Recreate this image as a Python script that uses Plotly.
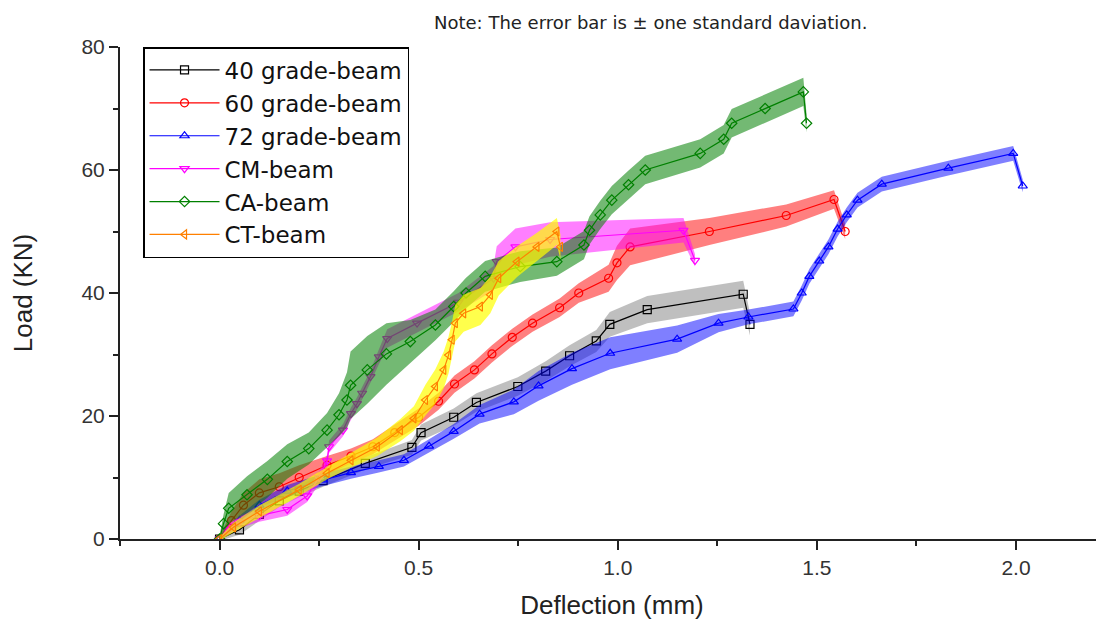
import plotly.graph_objects as go

# ---------------- data ----------------
names = ["40 grade-beam", "60 grade-beam", "72 grade-beam", "CM-beam", "CA-beam", "CT-beam"]

x40 = [0, 0.05, 0.10, 0.15, 0.20, 0.26, 0.366, 0.483, 0.506, 0.588, 0.645, 0.749, 0.819, 0.879, 0.946, 0.980, 1.074, 1.315, 1.332]
y40 = [0, 1.5, 4.0, 6.2, 7.8, 9.5, 12.3, 14.9, 17.3, 19.8, 22.2, 24.8, 27.3, 29.8, 32.2, 34.9, 37.3, 39.8, 34.9]
e40 = [0.3, 0.8, 1.0, 1.0, 1.0, 1.0, 1.0, 1.2, 1.3, 1.4, 1.5, 1.5, 1.6, 1.7, 1.8, 2.0, 2.2, 2.2, 1.8]

x60 = [0, 0.03, 0.06, 0.10, 0.15, 0.20, 0.27, 0.33, 0.385, 0.44, 0.50, 0.55, 0.59, 0.64, 0.684, 0.735, 0.786, 0.854, 0.902, 0.977, 0.998, 1.031, 1.23, 1.423, 1.543, 1.571]
y60 = [0, 3.0, 5.5, 7.5, 8.5, 10.0, 12.0, 13.5, 15.0, 17.3, 19.8, 22.4, 25.2, 27.5, 30.1, 32.8, 35.1, 37.6, 40.0, 42.4, 44.9, 47.5, 50.0, 52.6, 55.2, 50.0]
e60 = [0.3, 1.5, 2.0, 2.2, 2.2, 2.0, 1.5, 1.2, 1.2, 1.3, 1.4, 1.4, 1.4, 1.4, 1.4, 1.4, 1.4, 1.5, 1.6, 2.2, 2.8, 3.0, 2.2, 1.8, 1.5, 1.2]

x72 = [0, 0.05, 0.10, 0.17, 0.26, 0.33, 0.40, 0.463, 0.526, 0.588, 0.653, 0.739, 0.801, 0.885, 0.981, 1.149, 1.253, 1.328, 1.441, 1.462, 1.481, 1.506, 1.529, 1.552, 1.575, 1.602, 1.663, 1.830, 1.993, 2.017]
y72 = [0, 3.0, 5.5, 7.8, 9.6, 10.8, 11.8, 12.8, 15.1, 17.5, 20.3, 22.3, 24.9, 27.7, 30.2, 32.5, 35.1, 36.1, 37.4, 40.0, 42.7, 45.2, 47.5, 50.4, 52.7, 55.1, 57.7, 60.3, 62.7, 57.4]
e72 = [0.3, 0.8, 0.9, 1.0, 1.0, 1.0, 1.0, 1.0, 1.1, 1.2, 1.5, 2.0, 2.4, 2.6, 2.6, 2.2, 1.5, 1.2, 1.2, 1.2, 1.2, 1.2, 1.2, 1.2, 1.2, 1.2, 1.2, 1.2, 1.2, 1.0]

xCM = [0, 0.02, 0.05, 0.10, 0.17, 0.22, 0.25, 0.27, 0.275, 0.31, 0.33, 0.345, 0.358, 0.379, 0.40, 0.421, 0.496, 0.60, 0.688, 0.696, 0.743, 0.83, 1.165, 1.194]
yCM = [0, 1.5, 2.8, 3.8, 4.8, 7.0, 10.0, 12.7, 15.0, 17.7, 20.4, 22.0, 23.7, 26.4, 29.6, 32.6, 35.1, 38.5, 42.4, 45.1, 47.5, 48.7, 50.2, 45.3]
eCM = [0.3, 0.8, 1.0, 1.0, 1.0, 1.0, 1.0, 1.0, 1.0, 1.0, 1.0, 1.0, 1.0, 1.0, 1.2, 1.5, 1.5, 1.5, 2.0, 2.5, 3.0, 2.8, 2.0, 1.0]

xCA = [0, 0.01, 0.023, 0.069, 0.12, 0.17, 0.224, 0.27, 0.30, 0.32, 0.329, 0.371, 0.419, 0.479, 0.542, 0.588, 0.619, 0.667, 0.755, 0.847, 0.915, 0.929, 0.956, 0.985, 1.027, 1.069, 1.207, 1.266, 1.286, 1.37, 1.466, 1.474]
yCA = [0, 2.5, 5.0, 7.2, 9.7, 12.6, 14.7, 17.7, 20.2, 22.6, 25.0, 27.5, 30.1, 32.1, 34.8, 37.8, 40.0, 42.7, 44.3, 45.1, 47.8, 50.2, 52.7, 55.1, 57.6, 60.0, 62.7, 65.0, 67.6, 70.0, 72.7, 67.6]
eCA = [0.5, 1.5, 2.5, 3.0, 3.0, 2.8, 2.6, 2.8, 3.5, 4.5, 5.5, 5.5, 5.0, 3.5, 2.5, 2.5, 2.5, 2.5, 2.5, 2.3, 2.3, 2.3, 2.3, 2.3, 2.3, 2.3, 2.3, 2.3, 2.3, 2.3, 2.3, 1.5]

xCT = [0, 0.035, 0.10, 0.20, 0.27, 0.33, 0.396, 0.454, 0.488, 0.517, 0.542, 0.563, 0.575, 0.584, 0.592, 0.613, 0.655, 0.68, 0.701, 0.747, 0.797, 0.847, 0.856]
yCT = [0, 1.9, 4.5, 8.0, 10.7, 12.8, 15.0, 17.7, 19.6, 22.6, 24.8, 27.5, 29.9, 32.4, 35.1, 36.7, 37.8, 39.7, 42.4, 45.1, 47.5, 50.0, 47.5]
eCT = [0.3, 0.8, 1.0, 1.0, 1.0, 1.2, 1.5, 1.8, 2.0, 2.5, 2.8, 3.0, 3.0, 3.0, 3.0, 3.0, 3.0, 3.0, 2.8, 2.5, 2.3, 2.2, 2.0]

note_text = "Note: The error bar is \u00b1 one standard daviation."
x_title = "Deflection (mm)"
y_title = "Load (KN)"
x_ticks = [0.0, 0.5, 1.0, 1.5, 2.0]
x_ticklabels = ["0.0", "0.5", "1.0", "1.5", "2.0"]
y_ticks = [0, 20, 40, 60, 80]

# ---------------- styles ----------------
series = [
    (x40, y40, e40, "#000000", "rgba(128,128,128,0.5)", "square-open"),
    (x60, y60, e60, "#FF0000", "rgba(255,0,0,0.5)", "circle-open"),
    (x72, y72, e72, "#0000FF", "rgba(0,0,255,0.5)", "triangle-up-open"),
    (xCM, yCM, eCM, "#FF00FF", "rgba(255,0,255,0.5)", "triangle-down-open"),
    (xCA, yCA, eCA, "#008000", "rgba(0,128,0,0.55)", "diamond-open"),
    (xCT, yCT, eCT, "#FF8000", "rgba(255,255,0,0.7)", "triangle-left-open"),
]

FONT = "Liberation Sans, Arial, sans-serif"
WIDE = "DejaVu Sans, sans-serif"
fig = go.Figure()

for name, (xs, ys, es, col, band, sym) in zip(names, series):
    upper = [y + e for y, e in zip(ys, es)]
    lower = [y - e for y, e in zip(ys, es)]
    fig.add_trace(go.Scatter(
        x=list(xs) + list(xs)[::-1], y=upper + lower[::-1],
        fill="toself", fillcolor=band, line=dict(width=0, color=band),
        mode="lines", showlegend=False, hoverinfo="skip"))
    fig.add_trace(go.Scatter(
        x=xs, y=ys, name=name, mode="lines+markers",
        line=dict(color=col, width=1.2),
        marker=dict(symbol=sym, size=8, color=col, line=dict(width=1.2, color=col))))

fig.add_annotation(text=note_text, xref="paper", yref="paper", x=0.54, y=1.0,
                   yshift=25, showarrow=False, xanchor="center", yanchor="middle",
                   font=dict(family=WIDE, size=18, color="#222222"))

fig.update_layout(
    width=1104, height=619,
    margin=dict(l=112, r=8, t=39, b=88),
    paper_bgcolor="white", plot_bgcolor="white",
    font=dict(family=FONT, color="#222222"),
    legend=dict(x=0.0234, y=1.0, xanchor="left", yanchor="top",
                bordercolor="black", borderwidth=1.5, bgcolor="white",
                font=dict(family=WIDE, size=23, color="#111111"),
                tracegroupgap=0, itemwidth=70),
    xaxis=dict(range=[-0.25, 2.221], showgrid=False, zeroline=False, automargin=False,
               showline=True, linecolor="#222222", linewidth=2,
               ticks="outside", ticklen=9, tickwidth=2, tickcolor="#222222",
               tickvals=x_ticks, ticktext=x_ticklabels,
               tickfont=dict(family=FONT, size=21, color="#333333"),
               minor=dict(ticks="outside", ticklen=5, tickwidth=2, tickcolor="#222222", dtick=0.25, tick0=0),
               title=dict(text=x_title, font=dict(family=FONT, size=26, color="#222222"), standoff=18)),
    yaxis=dict(range=[0, 80], showgrid=False, zeroline=False, automargin=False,
               showline=True, linecolor="#222222", linewidth=2,
               ticks="outside", ticklen=9, tickwidth=2, tickcolor="#222222",
               tickvals=y_ticks,
               tickfont=dict(family=FONT, size=21, color="#333333"),
               minor=dict(ticks="outside", ticklen=5, tickwidth=2, tickcolor="#222222", dtick=10, tick0=0),
               title=dict(text=y_title, font=dict(family=FONT, size=26, color="#222222"), standoff=42)),
)

fig.write_html("out.html")
